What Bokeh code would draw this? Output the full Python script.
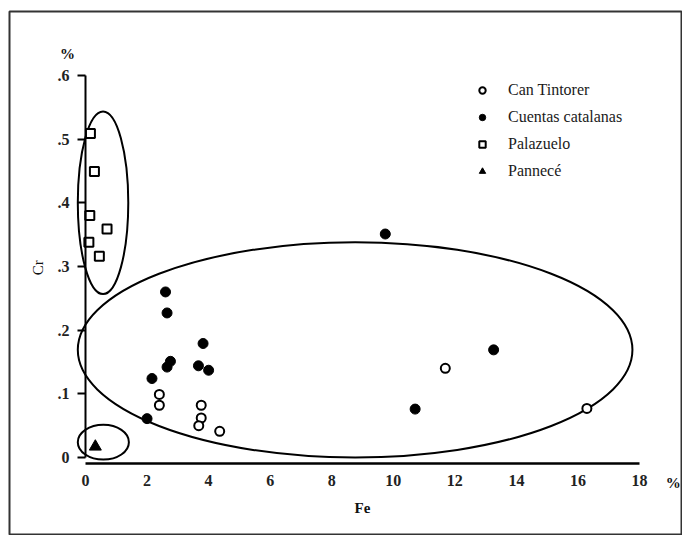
from math import pi
from bokeh.plotting import figure
from bokeh.models import LinearAxis, FixedTicker, Label, Legend, LegendItem
from bokeh.embed import file_html
from bokeh.resources import INLINE

# ---- data (Fe %, Cr %) ----
can_fe = [2.40, 2.40, 3.76, 3.76, 3.68, 4.36, 11.69, 16.29]
can_cr = [0.099, 0.082, 0.082, 0.062, 0.050, 0.041, 0.140, 0.077]

cue_fe = [2.60, 2.65, 3.82, 2.76, 2.65, 3.67, 4.00, 2.16, 2.00, 10.71, 13.26, 9.74]
cue_cr = [0.260, 0.227, 0.179, 0.151, 0.142, 0.144, 0.137, 0.124, 0.061, 0.076, 0.169, 0.351]

pal_fe = [0.16, 0.29, 0.14, 0.70, 0.11, 0.45]
pal_cr = [0.509, 0.449, 0.380, 0.359, 0.338, 0.316]

pan_fe = [0.32]
pan_cr = [0.017]

# grouping ellipses: centre x, centre y, width, height (data units)
ell_x = [0.57, 0.58, 8.76]
ell_y = [0.400, 0.024, 0.169]
ell_w = [1.64, 1.66, 18.02]
ell_h = [0.287, 0.0545, 0.338]

x_ticks = [0, 2, 4, 6, 8, 10, 12, 14, 16, 18]
y_ticks = [0, 0.1, 0.2, 0.3, 0.4, 0.5, 0.6]
y_tick_labels = ["0", ".1", ".2", ".3", ".4", ".5", ".6"]

FONT = "Liberation Serif"

p = figure(width=682, height=535, x_range=(-2.469, 19.364), y_range=(-0.1210, 0.7005),
           x_axis_location=None, y_axis_location=None,
           output_backend="svg", toolbar_location=None,
           min_border_left=9, min_border_top=11, min_border_right=1, min_border_bottom=1)
p.grid.visible = False
p.outline_line_color = "#333333"
p.outline_line_width = 2
p.background_fill_color = "white"
p.border_fill_color = "white"

# axes at fixed locations inside the frame
yax = LinearAxis(fixed_location=0, bounds=(0, 0.6), ticker=FixedTicker(ticks=y_ticks))
yax.major_label_overrides = {t: l for t, l in zip(y_ticks, y_tick_labels)}
yax.major_tick_out = 8
yax.major_tick_in = 0
yax.minor_tick_out = 0
yax.minor_tick_in = 0
yax.major_tick_line_width = 2
yax.axis_line_width = 2
yax.major_label_standoff = 8
yax.major_label_text_font = FONT
yax.major_label_text_font_size = "16px"
yax.major_label_text_font_style = "bold"
yax.major_label_text_color = "#222222"
p.add_layout(yax, "left")

xax = LinearAxis(fixed_location=-0.0094, bounds=(0, 18), ticker=FixedTicker(ticks=x_ticks))
xax.major_tick_out = 0
xax.major_tick_in = 0
xax.minor_tick_out = 0
xax.minor_tick_in = 0
xax.axis_line_width = 2.5
xax.major_label_standoff = 12
xax.major_label_text_font = FONT
xax.major_label_text_font_size = "16px"
xax.major_label_text_font_style = "bold"
xax.major_label_text_color = "#222222"
p.add_layout(xax, "below")

# ellipses
p.ellipse(x=ell_x, y=ell_y, width=ell_w, height=ell_h,
          fill_color=None, line_color="black", line_width=2)

# points
r_can = p.scatter(can_fe, can_cr, marker="circle", size=9, fill_color="white",
                  line_color="black", line_width=2)
r_cue = p.scatter(cue_fe, cue_cr, marker="circle", size=10, fill_color="black",
                  line_color="black", line_width=1)
r_pal = p.scatter(pal_fe, pal_cr, marker="square", size=9, fill_color="white",
                  line_color="black", line_width=2)
r_pan = p.scatter(pan_fe, pan_cr, marker="triangle", size=12, fill_color="black",
                  line_color="black", line_width=1)

legend = Legend(items=[
    LegendItem(label="Can Tintorer", renderers=[r_can]),
    LegendItem(label="Cuentas catalanas", renderers=[r_cue]),
    LegendItem(label="Palazuelo", renderers=[r_pal]),
    LegendItem(label="Pannecé", renderers=[r_pan]),
], location=(465, 353))
legend.border_line_color = None
legend.background_fill_alpha = 0
legend.padding = 0
legend.margin = 0
legend.spacing = 7
legend.glyph_width = 16
legend.glyph_height = 20
legend.label_height = 20
legend.label_standoff = 18
legend.label_text_font = FONT
legend.label_text_font_size = "16px"
legend.label_text_color = "#1a1a1a"
p.add_layout(legend, "center")

# axis titles / units
for x, y, txt, ang, style in [(-0.585, 0.633, "%", 0, "bold"),
                              (19.10, -0.0408, "%", 0, "bold"),
                              (9.0, -0.080, "Fe", 0, "bold"),
                              (-1.53, 0.298, "Cr", pi / 2, "normal")]:
    p.add_layout(Label(x=x, y=y, text=txt, angle=ang, text_font=FONT,
                       text_font_size="15px", text_font_style=style,
                       text_align="center", text_baseline="middle",
                       text_color="#111111"))

open("out.html", "w").write(file_html(p, INLINE))
